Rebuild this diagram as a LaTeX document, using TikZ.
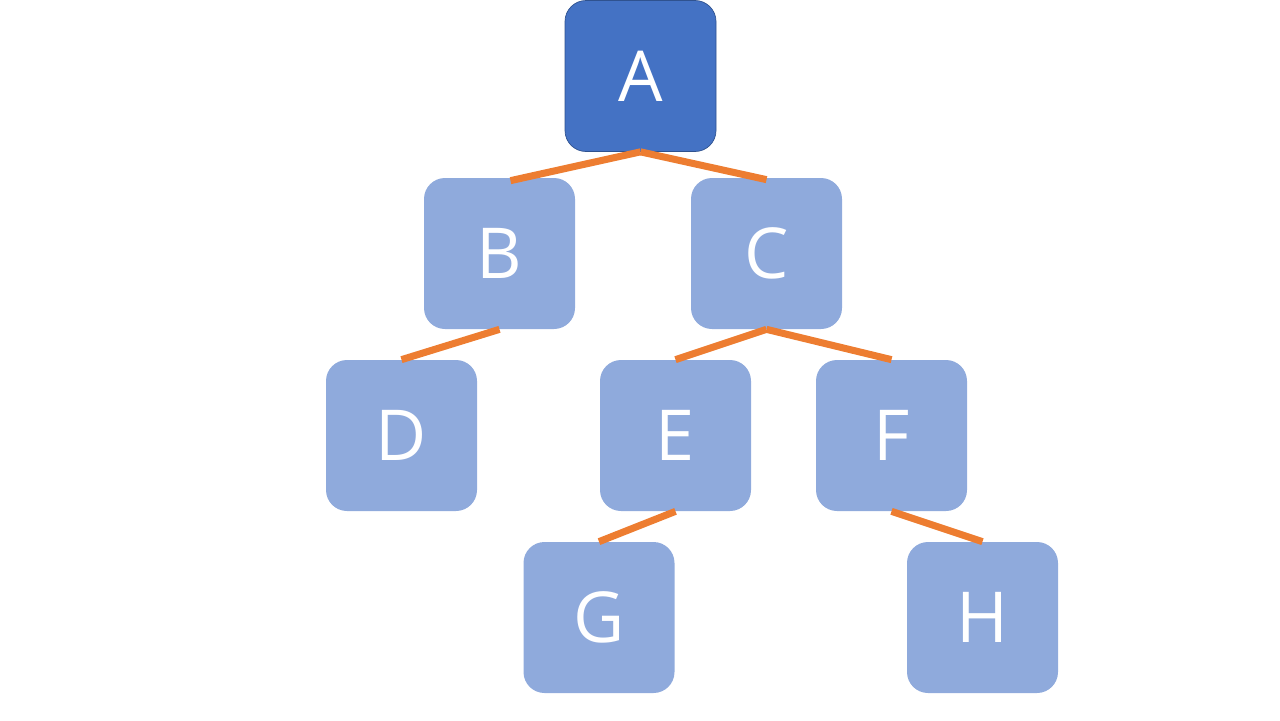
\documentclass[tikz,border=0pt]{standalone}
\usepackage{fontspec}
\setmainfont{Open Sans}
\usepackage{xcolor}
\usepackage{tikz}
\usetikzlibrary{positioning}
\definecolor{rootblue}{RGB}{68,114,196}
\definecolor{rootedge}{RGB}{47,82,143}
\definecolor{leafblue}{RGB}{143,170,220}
\definecolor{linkorange}{RGB}{237,125,49}
\tikzset{
  treenode/.style={rectangle, rounded corners=0.42cm, fill=leafblue, minimum size=3.02cm,
                   inner sep=0pt, text=white, font=\fontsize{40}{48}\selectfont},
  rootnode/.style={treenode, fill=rootblue, draw=rootedge, thin},
  link/.style={linkorange, line width=4pt}
}

\begin{document}
\begin{tikzpicture}
\useasboundingbox (0,0) rectangle (25.6,-14.4);
% nodes, placed by pixel centres (1px = 0.02cm)
\node[rootnode] (A) at (12.81,-1.52) {A};
\node[treenode] (B) at (9.99,-5.07) {B};
\node[treenode] (C) at (15.33,-5.07) {C};
\node[treenode] (D) at (8.03,-8.71) {D};
\node[treenode] (E) at (13.51,-8.71) {E};
\node[treenode] (F) at (17.83,-8.71) {F};
\node[treenode] (G) at (11.98,-12.35) {G};
\node[treenode] (H) at (19.65,-12.35) {H};
% links
\draw[link] (A.south) -- ([xshift=0.22cm,yshift=-0.06cm]B.north);
\draw[link] (A.south) -- ([yshift=-0.04cm]C.north);
\draw[link] (B.south) -- (D.north);
\draw[link] (C.south) -- (E.north);
\draw[link] (C.south) -- (F.north);
\draw[link] (E.south) -- (G.north);
\draw[link] (F.south) -- (H.north);
\end{tikzpicture}
\end{document}
